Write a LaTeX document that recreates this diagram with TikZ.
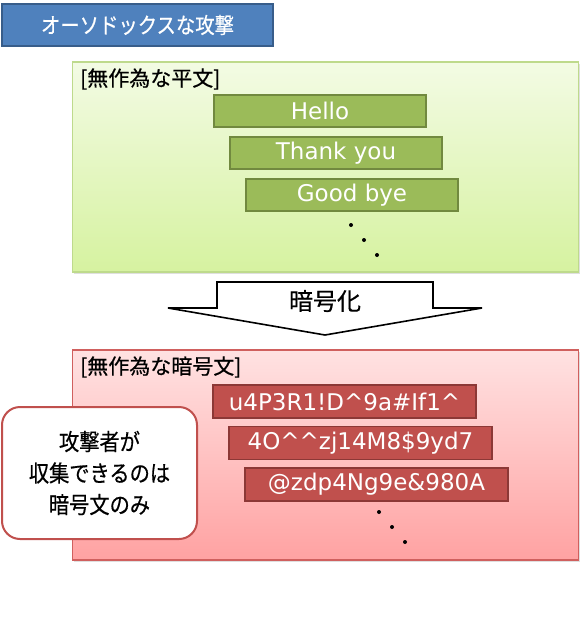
\documentclass[tikz,border=0pt]{standalone}
\usepackage{fontspec}
\setmainfont{Noto Sans CJK JP}
\newfontfamily\narrowjp[FakeStretch=0.88,FakeBold=0.5]{Noto Sans CJK JP}
\newfontfamily\heavyjp[FakeBold=0.5]{Noto Sans CJK JP}
\newfontfamily\latinfont{DejaVu Sans}
\usetikzlibrary{shadows}
\definecolor{titleblue}{HTML}{4F81BD}
\definecolor{titleline}{HTML}{385D8A}
\definecolor{okgreen}{HTML}{9BBB59}
\definecolor{okgreenline}{HTML}{71893F}
\definecolor{ngred}{HTML}{C0504D}
\definecolor{ngredline}{HTML}{8C3836}
\definecolor{greentop}{RGB}{243,251,228}
\definecolor{greenbot}{RGB}{214,242,160}
\definecolor{greenedge}{RGB}{190,218,140}
\definecolor{redtop}{RGB}{255,226,226}
\definecolor{redbot}{RGB}{255,162,162}
\definecolor{rededge}{RGB}{208,96,94}
\newcommand\jsize[2]{\fontsize{#1pt}{#2pt}\selectfont}
\tikzset{
  titlebox/.style={
    shape = rectangle,
    draw = titleline,
    fill = titleblue,
    line width = 1.5pt,
    text = white,
    minimum width = 271pt,
    minimum height = 42pt,
    font = \narrowjp\jsize{22}{24}
  },
  panel/.style={
    shape = rectangle,
    line width = 1.2pt,
    minimum width = 506pt,
    minimum height = 210pt,
    drop shadow={shadow xshift=1.5pt, shadow yshift=-2pt, opacity=.25}
  },
  plaintext/.style={
    shape = rectangle,
    draw = okgreenline,
    fill = okgreen,
    line width = 1.5pt,
    text = white,
    minimum width = 212pt,
    minimum height = 32pt,
    font = \latinfont\jsize{23}{25}
  },
  ciphertext/.style={
    shape = rectangle,
    draw = ngredline,
    fill = ngred,
    line width = 1.5pt,
    text = white,
    minimum width = 263pt,
    minimum height = 33pt,
    font = \latinfont\jsize{23}{25}
  },
  caption/.style={
    anchor = west,
    inner sep = 0pt,
    font = \heavyjp\jsize{21}{24}
  },
  dotmark/.style={
    shape = circle,
    fill,
    inner sep = 0pt,
    minimum size = 4pt
  },
  callout/.style={
    shape = rectangle,
    draw = ngred,
    fill = white,
    line width = 2pt,
    rounded corners = 18pt,
    minimum width = 195pt,
    minimum height = 132pt,
    align = center,
    font = \narrowjp\jsize{23}{31.5}
  }
}

\begin{document}
\begin{tikzpicture}[x=1pt,y=-1pt]
  \useasboundingbox (0,0) rectangle (584,637);

  % title
  \node[titlebox] (title) at (137.5,25) {オーソドックスな攻撃};

  % plain texts
  \node[panel, draw=greenedge, top color=greentop, bottom color=greenbot] (plainpanel) at (325.5,167) {};
  \node[caption] (plaincap) at (80,79) {[無作為な平文]};

  \node[plaintext] (hello) at (320,111) {Hello};
  \node[plaintext] (thanks) at (336,153) {Thank you};
  \node[plaintext] (bye) at (352,195) {Good bye};

  \node[dotmark] (pd1) at (351,225) {};
  \node[dotmark] (pd2) at (364,240) {};
  \node[dotmark] (pd3) at (377,255) {};

  % encrypt arrow
  \draw[line width=1.6pt, fill=white, line join=miter]
    (217,282) -- (433,282) -- (433,308) -- (482,308) -- (325,335)
    -- (168,308) -- (217,308) -- cycle;
  \node[font=\heavyjp\jsize{24}{26}] (encrypt) at (325,301) {暗号化};

  % cipher texts
  \node[panel, draw=rededge, top color=redtop, bottom color=redbot] (cipherpanel) at (325.5,455) {};
  \node[caption] (ciphercap) at (80,367) {[無作為な暗号文]};

  \node[ciphertext] (c1) at (344.5,401.5) {u4P3R1!D\string^9a\#If1\string^};
  \node[ciphertext] (c2) at (360.5,443) {4O\string^\string^zj14M8\$9yd7};
  \node[ciphertext] (c3) at (376.5,484.5) {@zdp4Ng9e\&980A};

  \node[dotmark] (cd1) at (379,512) {};
  \node[dotmark] (cd2) at (392,527) {};
  \node[dotmark] (cd3) at (405,542) {};

  % attacker note
  \node[callout] (note) at (99.5,473) {攻撃者が\\収集できるのは\\暗号文のみ};
\end{tikzpicture}
\end{document}
